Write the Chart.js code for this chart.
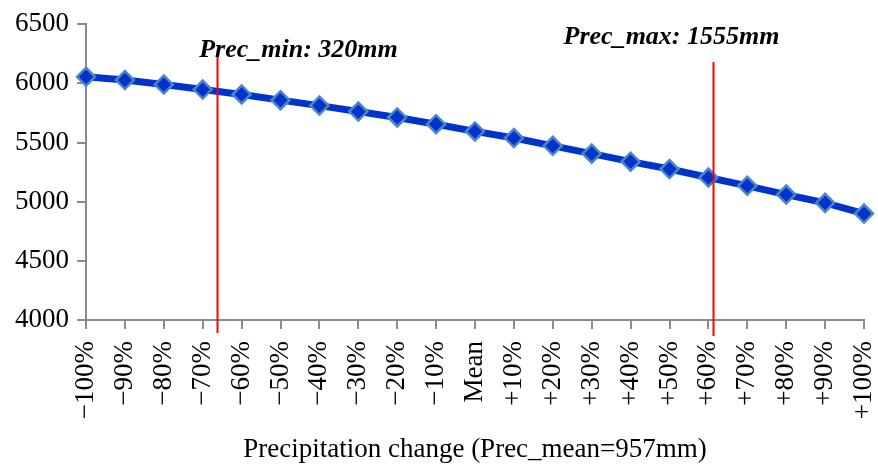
<!DOCTYPE html>
<html>
<head>
<meta charset="utf-8">
<script src="https://cdn.jsdelivr.net/npm/chart.js@4/dist/chart.umd.min.js"></script>
<style>
  html, body { margin: 0; padding: 0; background: #fff; }
  #wrap { width: 878px; height: 467px; }
</style>
</head>
<body>
<div id="wrap"><canvas id="c" width="878" height="467"></canvas></div>
<script>
// カテゴリと値
const categories = ["\u2212100%", "\u221290%", "\u221280%", "\u221270%", "\u221260%", "\u221250%", "\u221240%", "\u221230%", "\u221220%", "\u221210%",
  "Mean", "+10%", "+20%", "+30%", "+40%", "+50%", "+60%", "+70%", "+80%", "+90%", "+100%"];
const values = [6055, 6028, 5990, 5948, 5906, 5858, 5812, 5762, 5712, 5655,
  5594, 5538, 5472, 5406, 5338, 5276, 5204, 5134, 5060, 4990, 4900];
const yMin = 4000, yMax = 6500, yStep = 500;

// 降水量の参照線 (カテゴリ位置)
const markerLabels = ["Prec_min: 320mm", "Prec_max: 1555mm"];
const markerPos = [3.37, 16.12];

const serif = "'Liberation Serif', 'Times New Roman', serif";
const axisGray = "#8c8c8c";

const refLines = {
  id: "refLines",
  afterDatasetsDraw(chart) {
    const ctx = chart.ctx;
    const x = chart.scales.x, y = chart.scales.y;
    const tops = [6230, 6180];
    const bottoms = [3890, 3865];
    const textY = [6220, 6330];
    const textShift = [81, -42];
    ctx.save();
    for (let i = 0; i < markerPos.length; i++) {
      const px = Math.round(x.getPixelForValue(markerPos[i])) + 0.5;
      ctx.strokeStyle = "#ff0000";
      ctx.lineWidth = 2;
      ctx.beginPath();
      ctx.moveTo(px, y.getPixelForValue(tops[i]));
      ctx.lineTo(px, y.getPixelForValue(bottoms[i]));
      ctx.stroke();
      ctx.fillStyle = "#000";
      ctx.font = "italic bold 26px " + serif;
      ctx.textAlign = "center";
      ctx.textBaseline = "alphabetic";
      ctx.fillText(markerLabels[i], px + textShift[i], y.getPixelForValue(textY[i]));
    }
    ctx.restore();
  }
};

window.addEventListener("load", function() {
  let ctx = document.getElementById("c").getContext("2d");
  new Chart(ctx, {
    type: "line",
    data: {
      labels: categories,
      datasets: [{
        data: values,
        borderColor: "#0033cc",
        borderWidth: 7,
        backgroundColor: "#0033cc",
        pointStyle: "rectRot",
        pointRadius: 9,
        pointBorderColor: "#4a86c8",
        pointBorderWidth: 2.5,
        pointBackgroundColor: "#0033cc",
        tension: 0,
        fill: false
      }]
    },
    options: {
      responsive: false,
      animation: false,
      layout: { padding: { top: 23, right: 14, left: 0, bottom: 0 } },
      plugins: { legend: { display: false }, tooltip: { enabled: false } },
      scales: {
        x: {
          type: "category",
          offset: false,
          afterFit(s) { s.height = 147; s.paddingLeft = 0; s.paddingRight = 0; },
          grid: { drawOnChartArea: false, tickLength: 9, color: axisGray, lineWidth: 2 },
          border: { color: axisGray, width: 2 },
          ticks: { maxRotation: 90, minRotation: 90, autoSkip: false, padding: 12,
            color: "#000", font: { family: serif, size: 27 } },
          title: { display: true, text: "Precipitation change (Prec_mean=957mm)",
            color: "#000", font: { family: serif, size: 27 }, padding: { top: 0, bottom: 1 } }
        },
        y: {
          min: yMin, max: yMax,
          afterFit(s) { s.width = 86; },
          grid: { drawOnChartArea: false, tickLength: 9, color: axisGray, lineWidth: 2 },
          border: { color: axisGray, width: 2 },
          ticks: { stepSize: yStep, padding: 8, color: "#000", font: { family: serif, size: 27 },
            callback: function(v) { return String(v); } }
        }
      }
    },
    plugins: [refLines]
  });
}, false);
</script>
</body>
</html>
